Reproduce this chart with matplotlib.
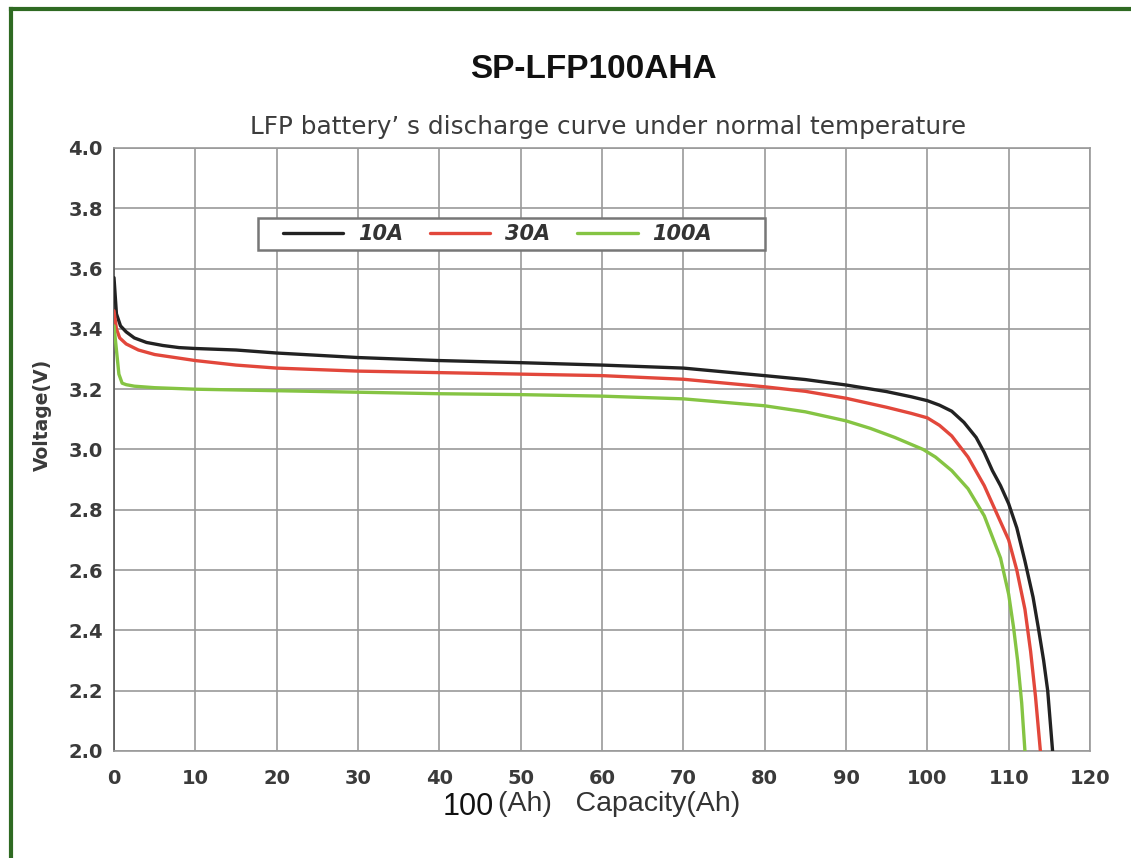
import matplotlib
matplotlib.use("Agg")
import matplotlib.pyplot as plt
from matplotlib.lines import Line2D
from matplotlib.patches import Rectangle

# ---- data ----
cap_10a = [0, 0.3, 0.8, 1.5, 2.5, 4, 6, 8, 10, 15, 20, 30, 40, 50, 60, 70, 80, 85, 90, 95,
           98, 100, 101.5, 103, 104.5, 106, 107, 108, 109, 110, 111, 112, 113, 113.7, 114.3,
           114.8, 115.1, 115.4]
volt_10a = [3.57, 3.45, 3.41, 3.39, 3.37, 3.355, 3.345, 3.338, 3.335, 3.33, 3.32, 3.305, 3.295,
            3.288, 3.28, 3.27, 3.245, 3.232, 3.214, 3.192, 3.175, 3.162, 3.147, 3.127, 3.09,
            3.04, 2.99, 2.93, 2.88, 2.82, 2.74, 2.63, 2.51, 2.40, 2.30, 2.20, 2.10, 2.0]

cap_30a = [0, 0.3, 0.7, 1.5, 3, 5, 7.5, 10, 15, 20, 30, 40, 50, 60, 70, 80, 85, 90, 95, 98,
           100, 101.5, 103, 105, 107, 108.5, 110, 111, 112, 112.7, 113.3, 113.9]
volt_30a = [3.46, 3.40, 3.37, 3.35, 3.33, 3.315, 3.305, 3.295, 3.28, 3.27, 3.26, 3.255, 3.25,
            3.245, 3.233, 3.208, 3.193, 3.17, 3.14, 3.12, 3.105, 3.08, 3.045, 2.975, 2.88, 2.79,
            2.70, 2.60, 2.47, 2.33, 2.18, 2.0]

cap_100a = [0, 0.3, 0.6, 1.0, 1.5, 2.5, 5, 10, 20, 30, 40, 50, 60, 70, 80, 85, 90, 93, 96,
            99.5, 101, 103, 105, 107, 109, 110, 110.6, 111.1, 111.6, 112]
volt_100a = [3.41, 3.33, 3.25, 3.22, 3.215, 3.21, 3.205, 3.20, 3.195, 3.19, 3.185, 3.182, 3.177,
             3.168, 3.145, 3.125, 3.095, 3.07, 3.04, 3.0, 2.975, 2.93, 2.87, 2.78, 2.64, 2.52,
             2.41, 2.30, 2.16, 2.0]

series_labels = ["10A", "30A", "100A"]
series_colors = ["#222222", "#e2473b", "#85c443"]
x_ticks = list(range(0, 121, 10))
y_ticks = [2.0, 2.2, 2.4, 2.6, 2.8, 3.0, 3.2, 3.4, 3.6, 3.8, 4.0]

title = "SP-LFP100AHA"
subtitle = "LFP battery\u2019 s discharge curve under normal temperature"
ylabel = "Voltage(V)"

# ---- figure ----
fig = plt.figure(figsize=(11.31, 8.58), dpi=100)
ax = fig.add_axes([114 / 1131, 1 - 751 / 858, 976 / 1131, 603 / 858])

for cx, vy, lab, col in zip([cap_10a, cap_30a, cap_100a],
                            [volt_10a, volt_30a, volt_100a],
                            series_labels, series_colors):
    ax.plot(cx, vy, color=col, lw=2.4, label=lab, solid_joinstyle="round",
            solid_capstyle="round", zorder=3)

ax.set_xlim(0, 120)
ax.set_ylim(2.0, 4.0)
ax.set_xticks(x_ticks)
ax.set_yticks(y_ticks)
ax.set_yticklabels([f"{v:.1f}" for v in y_ticks])
ax.grid(True, color="#9a9a9a", lw=1.2)
ax.set_axisbelow(True)
for s in ax.spines.values():
    s.set_color("#9a9a9a")
    s.set_linewidth(1.2)
ax.spines["left"].set_color("#555555")
ax.tick_params(length=0, labelsize=14, labelcolor="#3a3a3a")
ax.tick_params(axis="x", pad=13)
ax.tick_params(axis="y", pad=8)
for lbl in ax.get_xticklabels() + ax.get_yticklabels():
    lbl.set_fontweight("bold")
    lbl.set_family("DejaVu Sans")

# legend box (frame drawn separately for wider horizontal padding)
ax.add_patch(Rectangle((0.1475, 0.831), 0.5195, 0.053, transform=ax.transAxes,
                       facecolor="white", edgecolor="#777777", lw=1.8, zorder=4))
leg = ax.legend(loc="center left", bbox_to_anchor=(0.173, 0.857), ncol=3,
                frameon=False, handlelength=2.9, columnspacing=1.3,
                borderpad=0, handletextpad=0.7, borderaxespad=0,
                prop={"family": "DejaVu Sans", "weight": "bold", "style": "italic", "size": 15})
leg.set_zorder(5)
for t in leg.get_texts():
    t.set_color("#333333")

fig.text(593 / 1131, 1 - 70 / 858, title, ha="center", va="center",
         fontsize=24, fontweight="bold", family="Liberation Sans", color="#111111")
fig.text(608 / 1131, 1 - 127 / 858, subtitle, ha="center", va="center",
         fontsize=17.8, family="DejaVu Sans", color="#3c3c3c")
fig.text(42 / 1131, 1 - 415 / 858, ylabel, ha="center", va="center", rotation=90,
         fontsize=13.5, fontweight="bold", family="DejaVu Sans", color="#3a3a3a")
fig.text(494 / 1131, 1 - 807 / 858, "100", ha="right", va="center",
         fontsize=22, family="Liberation Sans", color="#111111")
fig.text(498 / 1131, 1 - 804 / 858, "(Ah)   Capacity(Ah)", ha="left", va="center",
         fontsize=20.5, family="Liberation Sans", color="#333333")

# green picture frame on top and left
fig.add_artist(Line2D([11 / 1131, 11 / 1131], [0, 1 - 9 / 858], transform=fig.transFigure,
                      color="#2f6a22", lw=3))
fig.add_artist(Line2D([11 / 1131, 1], [1 - 9 / 858, 1 - 9 / 858], transform=fig.transFigure,
                      color="#2f6a22", lw=3))

fig.savefig("out.png", dpi=100)
